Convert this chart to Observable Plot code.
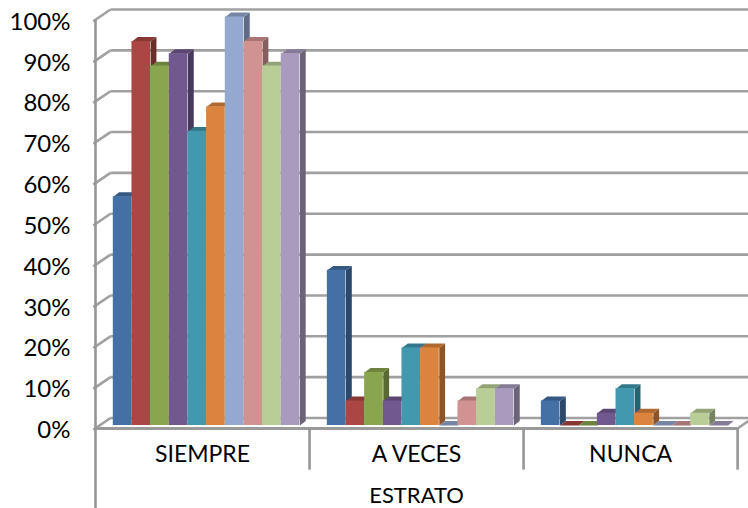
<!DOCTYPE html>
<html>
<head>
<meta charset="utf-8">
<style>html,body{margin:0;padding:0;background:#fff}svg{display:block}</style>
<script src="https://cdn.jsdelivr.net/npm/d3@7"></script>
<script src="https://cdn.jsdelivr.net/npm/@observablehq/plot@0.6"></script>
</head>
<body>
<script>
const categories = ["SIEMPRE", "A VECES", "NUNCA"];
const axisTitle = "ESTRATO";
const yTicks = [0, 10, 20, 30, 40, 50, 60, 70, 80, 90, 100];
const siempre = [56, 94, 88, 91, 72, 78, 100, 94, 88, 91];
const aVeces = [38, 6, 13, 6, 19, 19, 0, 6, 9, 9];
const nunca = [6, 0, 0, 3, 9, 3, 0, 0, 3, 0];
const seriesColors = ["#4470A5", "#AA4643", "#89A54E", "#71588F", "#4198AF",
                      "#DB843D", "#93A9CF", "#D19392", "#B9CD96", "#A99BBD"];
const groups = [siempre, aVeces, nunca];

// layout helpers, in scale units
const pxX = 18.66, pxY = 4.09;
const groupStep = 11.47;
const xLeft = -0.954;
const barDx = 0, barDy = -3;
const depthX = 5.8 / pxX, depthY = 4.4 / pxY;
const wallX = 15 / pxX, wallY = 10.5 / pxY;
const boundaries = d3.range(4).map(i => xLeft + i * groupStep);
const grey = "#a0a0a0";
const lineW = 2.6;

const bars = groups.flatMap((vals, g) => vals.map((v, s) => ({
  id: g * 10 + s, x1: g * groupStep + s, x2: g * groupStep + s + 1, v, color: seriesColors[s]
})));

const sideFaces = bars.flatMap(b => [
  [b.x2, 0], [b.x2 + depthX, depthY], [b.x2 + depthX, b.v + depthY], [b.x2, b.v]
].map(([x, y]) => ({x, y, id: b.id, fill: d3.rgb(b.color).darker(1.25).formatHex()})));
const topFaces = bars.flatMap(b => [
  [b.x1, b.v], [b.x1 + depthX, b.v + depthY], [b.x2 + depthX, b.v + depthY], [b.x2, b.v]
].map(([x, y]) => ({x, y, id: b.id, fill: d3.rgb(b.color).darker(0.65).formatHex()})));

const right = boundaries[3];
const wallLines = yTicks.map(t => ({x1: xLeft + wallX, x2: 34.1, y1: t + wallY, y2: t + wallY}));
const wallDiags = yTicks.map(t => ({x1: xLeft - 0.12, x2: xLeft + wallX, y1: t - 0.3, y2: t + wallY}));

const chart = Plot.plot({
  width: 748, height: 508,
  marginLeft: 95, marginRight: 0, marginTop: 0, marginBottom: 0,
  style: {background: "#fff", color: "#000", overflow: "visible"},
  x: {domain: [xLeft, 34.04], range: [95, 748], axis: null},
  y: {domain: [0, 100], range: [428, 19.5]},
  marks: [
    // walls
    Plot.link(wallLines, {x1: "x1", x2: "x2", y1: "y1", y2: "y2", stroke: grey, strokeWidth: lineW}),
    Plot.link(wallDiags, {x1: "x1", x2: "x2", y1: "y1", y2: "y2", stroke: grey, strokeWidth: lineW}),
    Plot.link([{}], {x1: right, x2: right + wallX, y1: 0, y2: wallY, stroke: grey, strokeWidth: lineW}),
    // 3-D faces
    Plot.line(sideFaces, {x: "x", y: "y", z: "id", fill: "fill", stroke: "none", dx: barDx, dy: barDy}),
    Plot.line(topFaces, {x: "x", y: "y", z: "id", fill: "fill", stroke: "none", dx: barDx, dy: barDy}),
    // bar fronts
    Plot.rect(bars, {x1: "x1", x2: "x2", y1: 0, y2: "v", fill: "color", dx: barDx, dy: barDy}),
    // axes and frame
    Plot.axisY({
      ticks: yTicks, tickFormat: d => d + "%", tickSize: 0, tickPadding: 25, dy: 2,
      fontSize: 24, fontFamily: "Lato"
    }),
    Plot.ruleY([0], {x1: xLeft, x2: right, stroke: "#9a9a9a", strokeWidth: 3}),
    Plot.ruleX([xLeft], {y1: 100, y2: -19.6, stroke: "#969696", strokeWidth: lineW}),
    Plot.ruleX(boundaries.slice(1), {y1: 0, y2: -10.2, stroke: "#969696", strokeWidth: lineW}),
    Plot.text(categories, {
      x: (d, i) => (boundaries[i] + boundaries[i + 1]) / 2, y: 0, dy: 26,
      text: d => d, fontSize: 23, fontFamily: "Lato", fill: "#000"
    }),
    Plot.text([axisTitle], {
      x: boundaries[1] + groupStep / 2, y: 0, dy: 67,
      text: d => d, fontSize: 22, fontFamily: "Lato", fill: "#000"
    })
  ]
});
document.body.appendChild(chart);
</script>
</body>
</html>
